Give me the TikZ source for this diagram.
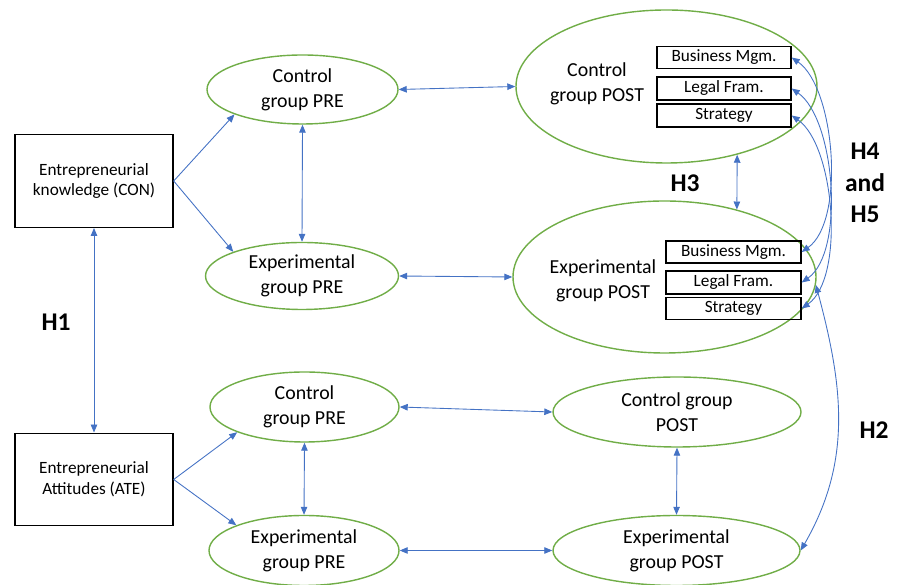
\documentclass[tikz,border=0pt]{standalone}
\usepackage{fontspec}
\setmainfont{Carlito}
\usetikzlibrary{shapes.geometric,arrows.meta}
\definecolor{grpgreen}{RGB}{112,173,71}
\definecolor{linkblue}{RGB}{68,114,196}
\begin{document}
\begin{tikzpicture}[>={Triangle[length=1.6mm,width=1.3mm]},
    grp/.style={ellipse,draw=grpgreen,line width=0.8pt,inner sep=0pt,align=center,font=\fontsize{11.3}{14.2}\selectfont},
    grplabel/.style={align=center,inner sep=0pt,font=\fontsize{11.3}{14.2}\selectfont},
    construct/.style={draw,line width=0.8pt,align=center,inner sep=0pt,minimum width=3.16cm,minimum height=1.85cm,font=\fontsize{9.8}{11.8}\selectfont},
    dim/.style={draw,line width=0.8pt,inner sep=0pt,minimum width=2.68cm,minimum height=0.44cm,font=\fontsize{9.8}{11}\selectfont},
    link/.style={linkblue,line width=0.5pt},
    hyp/.style={align=center,font=\bfseries\fontsize{14.5}{18}\selectfont}]
    \useasboundingbox (0,0) rectangle (17.96,11.7);
        \node[construct] (con) at (1.88,8.08) {Entrepreneurial\\knowledge (CON)};
        \node[construct] (ate) at (1.88,2.11) {Entrepreneurial\\Attitudes (ATE)};
        \node[hyp] (h1) at (1.12,5.26) {H1};
        \node[grp,minimum width=3.82cm,minimum height=1.38cm] (cpre1) at (6.05,9.91) {Control\\group PRE};
        \node[grp,minimum width=3.86cm,minimum height=1.34cm] (epre1) at (6.04,6.18) {Experimental\\group PRE};
        \node[grp,minimum width=6.02cm,minimum height=3.06cm] (cpost1) at (13.33,9.97) {};
        \node[grp,minimum width=6.06cm,minimum height=3.04cm] (epost1) at (13.29,6.16) {};
        \node[grplabel] (cpost1txt) at (11.94,10.02) {Control\\group POST};
        \node[grplabel] (epost1txt) at (12.06,6.08) {Experimental\\group POST};
        \node[dim] (bm1) at (14.48,10.55) {Business Mgm.};
        \node[dim,minimum height=0.46cm] (lf1) at (14.48,9.93) {Legal Fram.};
        \node[dim,minimum height=0.46cm] (st1) at (14.48,9.39) {Strategy};
        \node[dim,minimum width=2.7cm] (bm2) at (14.67,6.66) {Business Mgm.};
        \node[dim,minimum width=2.7cm,minimum height=0.46cm] (lf2) at (14.67,6.05) {Legal Fram.};
        \node[dim,minimum width=2.7cm] (st2) at (14.67,5.53) {Strategy};
        \node[hyp] (h3) at (13.7,8.04) {H3};
        \node[hyp] (h45) at (17.3,8.04) {H4\\and\\H5};
        \node[grp,minimum width=3.78cm,minimum height=1.40cm] (cpre2) at (6.09,3.56) {Control\\group PRE};
        \node[grp,minimum width=3.8cm,minimum height=1.40cm] (epre2) at (6.08,0.69) {Experimental\\group PRE};
        \node[grp,minimum width=4.96cm,minimum height=1.40cm] (cpost2) at (13.54,3.46) {Control group\\POST};
        \node[grp,minimum width=4.94cm,minimum height=1.40cm] (epost2) at (13.53,0.69) {Experimental\\group POST};
        \node[hyp] (h2) at (17.48,3.1) {H2};
        \draw[link,->] (con.east) -- (cpre1.south west);
        \draw[link,->] (con.east) -- (epre1.north west);
        \draw[link,->] (ate.east) -- (cpre2.south west);
        \draw[link,->] (ate.east) -- (epre2.north west);
        \draw[link,<->] (con.south) -- (ate.north);
        \draw[link,<->] (cpre1.south) -- (epre1.north);
        \draw[link,<->] (cpre2.south) -- (epre2.north);
        \draw[link,<->] (cpre1.east) -- (cpost1.west);
        \draw[link,<->] (epre1.east) -- (epost1.west);
        \draw[link,<->] (cpre2.east) -- (cpost2.west);
        \draw[link,<->] (epre2.east) -- (epost2.west);
        \draw[link,<->] (cpost2.south) -- (epost2.north);
        \draw[link,<->] (cpost1.-44) -- (epost1.43);
        \draw[link,<->] (bm1.east) to[out=-35,in=35,looseness=0.7] (bm2.east);
        \draw[link,<->] (lf1.east) to[out=-35,in=35,looseness=0.7] (lf2.east);
        \draw[link,<->] (st1.east) to[out=-35,in=35,looseness=0.7] (st2.east);
        \draw[link,<->] (epost1.-3) to[out=-75,in=60] (epost2.east);
\end{tikzpicture}
\end{document}
